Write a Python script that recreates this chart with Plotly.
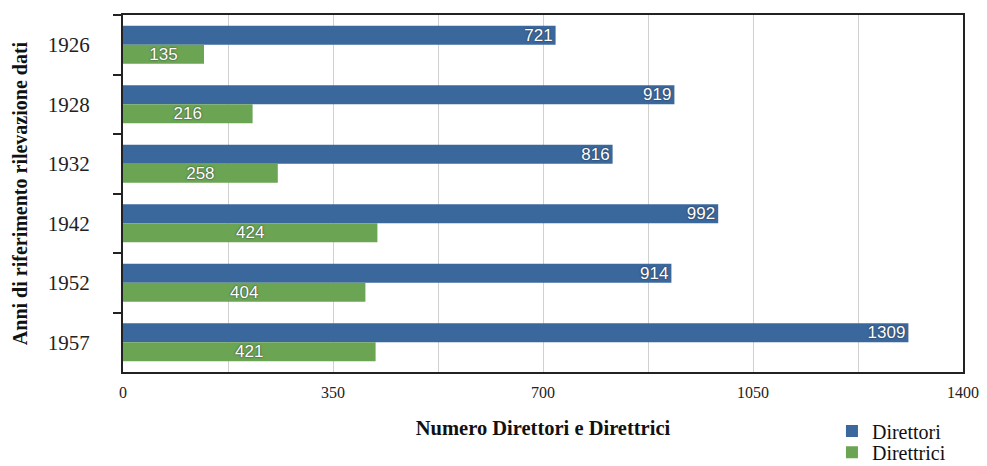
import plotly.graph_objects as go

anni = ["1926", "1928", "1932", "1942", "1952", "1957"]
direttori = [721, 919, 816, 992, 914, 1309]
direttrici = [135, 216, 258, 424, 404, 421]
serie_nomi = ["Direttori", "Direttrici"]
x_ticks = [0, 175, 350, 525, 700, 875, 1050, 1225, 1400]
x_labels = ["0", "", "350", "", "700", "", "1050", "", "1400"]

blue = "#3b689c"
green = "#6ba554"
serif = "Liberation Serif"
lab_font = dict(family="Liberation Sans, Arial", size=17, color="white",
                shadow="0px 0px 2px #223")


def leg_name(s):
    return '<span style="font-family:%s">%s</span>' % (serif, s)


fig = go.Figure()
fig.add_trace(go.Bar(y=anni, x=direttori, name=leg_name(serie_nomi[0]), orientation="h",
                     marker=dict(color=blue, line=dict(width=0)),
                     text=direttori, textposition="inside", insidetextanchor="end",
                     constraintext="none", cliponaxis=False, showlegend=True,
                     textfont=lab_font, textangle=0, legend="legend2"))
fig.add_trace(go.Bar(y=anni, x=direttrici, name=leg_name(serie_nomi[1]), orientation="h",
                     marker=dict(color=green, line=dict(width=0)),
                     text=direttrici, textposition="inside", insidetextanchor="middle",
                     constraintext="none", cliponaxis=False, showlegend=True,
                     textfont=lab_font, textangle=0, legend="legend3"))

# page is rendered with an ~8px offset; figure sized to stay in view
W, H = 979, 458
L, T = 115, 7
PW, PH = 840, 357
leg_font = dict(family=serif, size=20, color="#111")
leg_common = dict(xanchor="left", yanchor="middle", visible=True,
                  font=leg_font,
                  itemwidth=30, bgcolor="rgba(0,0,0,0)", borderwidth=0)
fig.update_layout(
    width=W, height=H,
    font=dict(family=serif, color="#111"),
    margin=dict(l=L, r=W - L - PW, t=T, b=H - T - PH, autoexpand=False),
    barmode="group", bargap=0.36, bargroupgap=0,
    plot_bgcolor="white", paper_bgcolor="white",
    showlegend=True,
    xaxis=dict(range=[0, 1400], tickvals=x_ticks, ticktext=x_labels,
               showgrid=True, gridcolor="#d0d0d0", gridwidth=1,
               showline=True, linecolor="#222", linewidth=2, mirror=True,
               ticks="outside", ticklen=5, tickcolor="rgba(0,0,0,0)",
               tickfont=dict(family=serif, size=16, color="#222"),
               zeroline=False, automargin=False,
               title=dict(text="<b>Numero Direttori e Direttrici</b>",
                          font=dict(family=serif, size=20.5, color="#111"), standoff=20)),
    yaxis=dict(categoryorder="array", categoryarray=anni, autorange="reversed",
               showline=True, linecolor="#222", linewidth=2, mirror=True,
               ticks="outside", ticklen=8, tickwidth=2, tickcolor="#222",
               tickson="boundaries", showgrid=False, automargin=False,
               ticklabelstandoff=27,
               tickfont=dict(family=serif, size=21, color="#222"),
               title=dict(text="<b>Anni di riferimento rilevazione dati</b>",
                          font=dict(family=serif, size=20, color="#111"), standoff=15)),
    legend=dict(font=leg_font),
    legend2=dict(x=0.844, y=-0.165, **leg_common),
    legend3=dict(x=0.844, y=-0.225, **leg_common),
)
fig.write_html("out.html")
